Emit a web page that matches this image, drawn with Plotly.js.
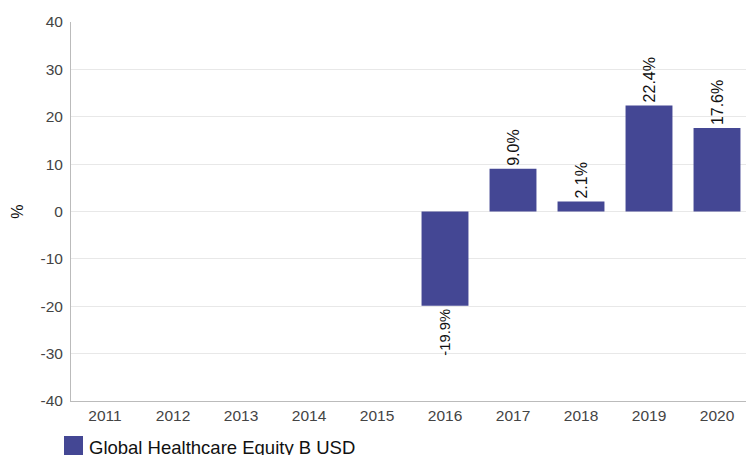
<!DOCTYPE html>
<html>
<head>
<meta charset="utf-8">
<script src="https://cdn.plot.ly/plotly-3.0.1.min.js"></script>
<style>html,body{margin:0;padding:0;background:#fff;}#chart{width:746px;height:455px;}</style>
</head>
<body>
<div id="chart"></div>
<script>
const years = ["2011","2012","2013","2014","2015","2016","2017","2018","2019","2020"];
const returns = [null, null, null, null, null, -19.9, 9.0, 2.1, 22.4, 17.6];
const labels = ["", "", "", "", "", "-19.9%", "9.0%", "2.1%", "22.4%", "17.6%"];
const seriesName = "Global Healthcare Equity B USD";
const yTicks = [-40, -30, -20, -10, 0, 10, 20, 30, 40];
const barColor = "#444794";

const trace = {
  type: "bar",
  x: years,
  y: returns,
  name: seriesName,
  text: labels,
  textposition: "outside",
  textangle: -90,
  cliponaxis: false,
  textfont: {family: "Liberation Sans, Arial, sans-serif", size: 16, color: "#111"},
  marker: {color: barColor, line: {width: 0}},
  hoverinfo: "none",
  showlegend: false
};

// plot area in pixels: x 71..746, y 22..401
const W = 675, H = 379;
const px = v => (v - 71) / W;
const py = v => (401 - v) / H;

const layout = {
  width: 746, height: 455,
  margin: {l: 71, r: 0, t: 22, b: 54},
  paper_bgcolor: "#fff", plot_bgcolor: "#fff",
  font: {family: "Liberation Sans, Arial, sans-serif", size: 16, color: "#444"},
  bargap: 0.31,
  showlegend: false,
  xaxis: {
    type: "category", tickvals: years, ticktext: years,
    range: [-0.5, -0.5 + W / 68],
    showline: true, linecolor: "#bbb", linewidth: 1,
    showgrid: false, zeroline: false, ticks: "", fixedrange: true,
    tickfont: {size: 15.5, color: "#444"}
  },
  yaxis: {
    range: [-40, 40], tickvals: yTicks, ticktext: yTicks.map(String),
    showline: true, linecolor: "#bbb", linewidth: 1,
    showgrid: true, gridcolor: "#e8e8e8", zeroline: false,
    ticks: "", fixedrange: true, ticklabelstandoff: 4,
    tickfont: {size: 15.5, color: "#444"},
    title: {text: "%", font: {size: 16, color: "#111"}, standoff: 12}
  },
  shapes: [{
    type: "rect", xref: "paper", yref: "paper",
    x0: px(64), x1: px(83), y0: py(455), y1: py(436),
    fillcolor: barColor, line: {width: 0}
  }],
  annotations: [{
    xref: "paper", yref: "paper", x: px(87), y: py(447),
    xanchor: "left", yanchor: "middle", showarrow: false,
    text: seriesName, font: {size: 18.5, color: "#111"}
  }]
};

Plotly.newPlot("chart", [trace], layout, {displayModeBar: false, staticPlot: true});
</script>
</body>
</html>
